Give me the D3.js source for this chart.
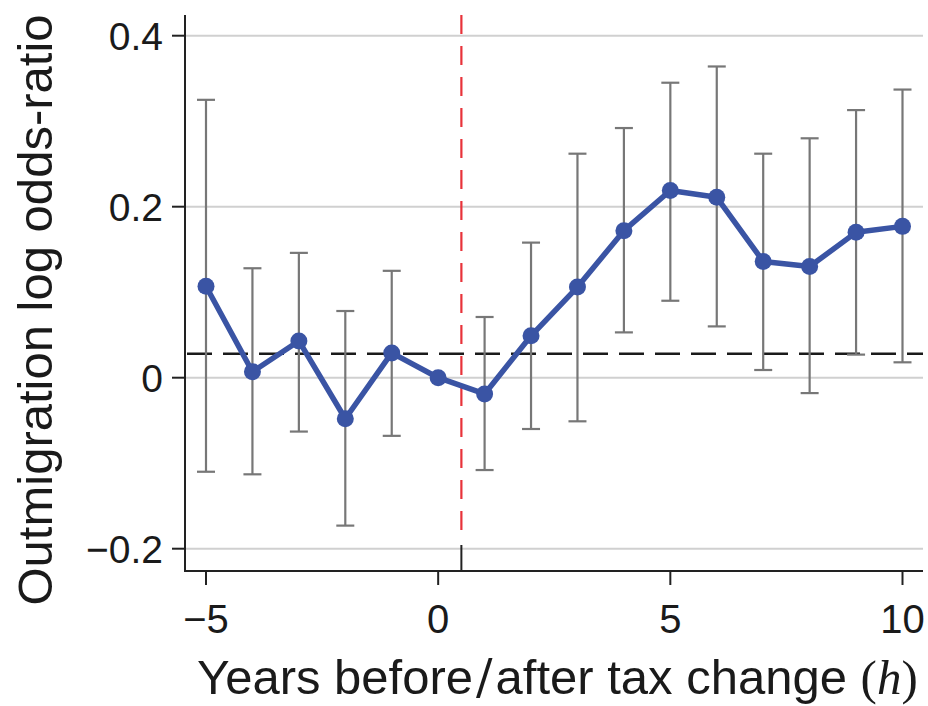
<!DOCTYPE html>
<html>
<head>
<meta charset="utf-8">
<script src="https://cdn.jsdelivr.net/npm/d3@7"></script>
<style>
body { margin: 0; background: #fff; }
text { font-family: "Liberation Sans", Arial, Helvetica, sans-serif; fill: #1a1a1a; }
</style>
</head>
<body>
<div id="chart"></div>
<script>
// event study estimates
var years = [-5, -4, -3, -2, -1, 0, 1, 2, 3, 4, 5, 6, 7, 8, 9, 10];
var coef  = [0.107, 0.007, 0.043, -0.048, 0.029, 0, -0.019, 0.049, 0.106, 0.172, 0.219, 0.211, 0.136, 0.130, 0.170, 0.177];
var lower = [-0.110, -0.113, -0.063, -0.173, -0.068, null, -0.108, -0.060, -0.051, 0.053, 0.090, 0.060, 0.009, -0.018, 0.027, 0.018];
var upper = [0.325, 0.128, 0.146, 0.078, 0.125, null, 0.071, 0.158, 0.262, 0.292, 0.345, 0.364, 0.262, 0.280, 0.313, 0.337];
var xTicks = [-5, 0, 5, 10];
var yTicks = [-0.2, 0, 0.2, 0.4];
var meanLine = 0.028;   // black dashed reference
var eventLine = 0.5;    // red dashed line between 0 and 1

var width = 928,
	height = 706;

var plotLeft = 185, plotRight = 923, plotTop = 15, plotBottom = 571;

var x = d3.scaleLinear().domain([-5, 10]).range([206, 902.5]);
var y = d3.scaleLinear().domain([-0.2, 0.4]).range([548.7, 35.7]);

var yFmt = function(d) { return d === 0 ? "0" : d3.format(".1f")(d).replace("-", "\u2212"); };
var xFmt = function(d) { return String(d).replace("-", "\u2212"); };

var svg = d3.select("#chart")
	.append("svg")
	.attr("width", width)
	.attr("height", height);

// gridlines
svg.append("g")
	.selectAll("line")
	.data(yTicks)
	.enter().append("line")
	.attr("x1", plotLeft)
	.attr("x2", plotRight)
	.attr("y1", function(d) { return y(d); })
	.attr("y2", function(d) { return y(d); })
	.attr("stroke", "#d0d0d0")
	.attr("stroke-width", 2);

// red dashed event line
svg.append("line")
	.attr("x1", x(eventLine))
	.attr("x2", x(eventLine))
	.attr("y1", plotTop)
	.attr("y2", 536)
	.attr("stroke", "#e8333a")
	.attr("stroke-width", 2.2)
	.attr("stroke-dasharray", "19,12");

svg.append("line")
	.attr("x1", x(eventLine))
	.attr("x2", x(eventLine))
	.attr("y1", 545)
	.attr("y2", plotBottom)
	.attr("stroke", "#222")
	.attr("stroke-width", 2);

// black dashed line
svg.append("line")
	.attr("x1", plotLeft + 2)
	.attr("x2", plotRight)
	.attr("y1", y(meanLine))
	.attr("y2", y(meanLine))
	.attr("stroke", "#1a1a1a")
	.attr("stroke-width", 2.5)
	.attr("stroke-dasharray", "25,11");

// error bars
var ci = years.map(function(d, i) { return {h: d, lo: lower[i], hi: upper[i]}; })
	.filter(function(d) { return d.lo !== null; });

var bars = svg.append("g")
	.attr("stroke", "#777")
	.attr("stroke-width", 2.2);

bars.selectAll("line.v")
	.data(ci)
	.enter().append("line")
	.attr("class", "v")
	.attr("x1", function(d) { return x(d.h); })
	.attr("x2", function(d) { return x(d.h); })
	.attr("y1", function(d) { return y(d.lo); })
	.attr("y2", function(d) { return y(d.hi); });

bars.selectAll("line.top")
	.data(ci)
	.enter().append("line")
	.attr("class", "top")
	.attr("x1", function(d) { return x(d.h) - 9; })
	.attr("x2", function(d) { return x(d.h) + 9; })
	.attr("y1", function(d) { return y(d.hi); })
	.attr("y2", function(d) { return y(d.hi); });

bars.selectAll("line.bot")
	.data(ci)
	.enter().append("line")
	.attr("class", "bot")
	.attr("x1", function(d) { return x(d.h) - 9; })
	.attr("x2", function(d) { return x(d.h) + 9; })
	.attr("y1", function(d) { return y(d.lo); })
	.attr("y2", function(d) { return y(d.lo); });

// estimates
var pts = years.map(function(d, i) { return [d, coef[i]]; });

svg.append("path")
	.datum(pts)
	.attr("fill", "none")
	.attr("stroke", "#3a54a4")
	.attr("stroke-width", 5.5)
	.attr("stroke-linejoin", "round")
	.attr("d", d3.line().x(function(d) { return x(d[0]); }).y(function(d) { return y(d[1]); }));

svg.append("g")
	.selectAll("circle")
	.data(pts)
	.enter().append("circle")
	.attr("cx", function(d) { return x(d[0]); })
	.attr("cy", function(d) { return y(d[1]); })
	.attr("r", 8.5)
	.attr("fill", "#3a54a4");

// axes
svg.append("line")
	.attr("x1", plotLeft).attr("x2", plotLeft)
	.attr("y1", plotTop).attr("y2", plotBottom + 1)
	.attr("stroke", "#222").attr("stroke-width", 2);

svg.append("line")
	.attr("x1", plotLeft - 1).attr("x2", plotRight)
	.attr("y1", plotBottom).attr("y2", plotBottom)
	.attr("stroke", "#222").attr("stroke-width", 2);

var yAxis = svg.append("g");
yAxis.selectAll("line")
	.data(yTicks)
	.enter().append("line")
	.attr("x1", plotLeft - 13).attr("x2", plotLeft)
	.attr("y1", function(d) { return y(d); })
	.attr("y2", function(d) { return y(d); })
	.attr("stroke", "#222").attr("stroke-width", 2);
yAxis.selectAll("text")
	.data(yTicks)
	.enter().append("text")
	.attr("x", 163)
	.attr("y", function(d) { return y(d); })
	.attr("dy", "0.36em")
	.attr("text-anchor", "end")
	.style("font-size", "39px")
	.text(yFmt);

var xAxis = svg.append("g");
xAxis.selectAll("line")
	.data(xTicks)
	.enter().append("line")
	.attr("x1", function(d) { return x(d); })
	.attr("x2", function(d) { return x(d); })
	.attr("y1", plotBottom).attr("y2", plotBottom + 14)
	.attr("stroke", "#222").attr("stroke-width", 2);
xAxis.selectAll("text")
	.data(xTicks)
	.enter().append("text")
	.attr("x", function(d) { return x(d); })
	.attr("y", 633)
	.attr("text-anchor", "middle")
	.style("font-size", "40px")
	.text(xFmt);

// titles
svg.append("text")
	.attr("transform", "translate(52,310) rotate(-90)")
	.attr("text-anchor", "middle")
	.style("font-size", "49px")
	.text("Outmigration log odds-ratio");

var xt = svg.append("text")
	.attr("x", 197)
	.attr("y", 694)
	.style("font-size", "49px");
xt.append("tspan").text("Years before");
xt.append("tspan").attr("dx", 3).style("font-family", "'DejaVu Serif', serif").style("font-weight", "300").text("/");
xt.append("tspan").attr("dx", 3).text("after tax change ");
xt.append("tspan").style("font-family", "'Liberation Serif', serif").text("(");
xt.append("tspan").style("font-family", "'Liberation Serif', serif").style("font-style", "italic").text("h");
xt.append("tspan").style("font-family", "'Liberation Serif', serif").text(")");
</script>
</body>
</html>
